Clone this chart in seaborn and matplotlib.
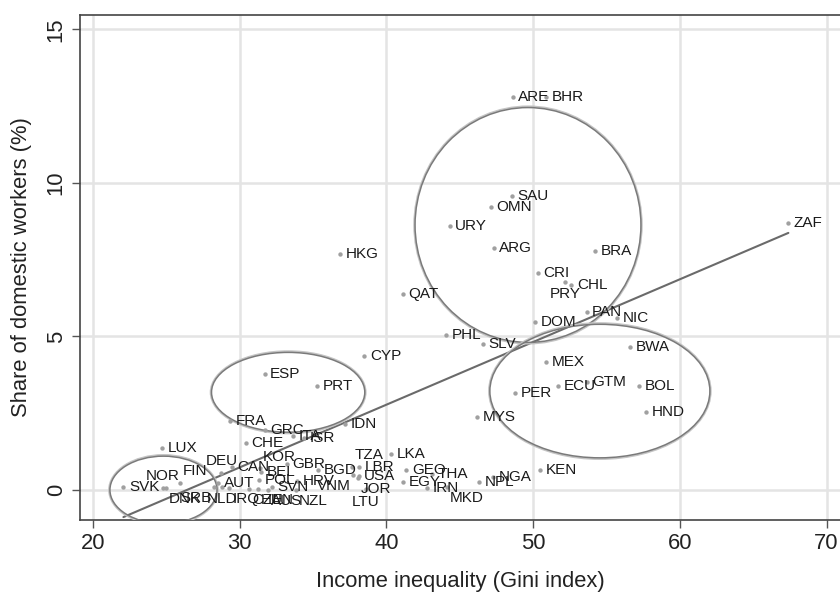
import numpy as np
import pandas as pd
import matplotlib
matplotlib.use('Agg')
import matplotlib.pyplot as plt
import seaborn as sns
from matplotlib.patches import Ellipse

# data
countries = [
    'ARE', 'BHR', 'SAU', 'OMN', 'URY', 'ARG', 'BRA', 'CRI', 'PRY', 'CHL',
    'PAN', 'NIC', 'DOM', 'PHL', 'SLV', 'BWA', 'MEX', 'GTM', 'ECU', 'BOL',
    'PER', 'HND', 'MYS', 'ZAF', 'HKG', 'QAT', 'CYP', 'ESP', 'PRT', 'FRA',
    'IDN', 'GRC', 'ITA', 'ISR', 'CHE', 'LUX', 'KEN', 'NGA', 'NPL', 'MKD',
    'IRN', 'THA', 'GEO', 'EGY', 'LKA', 'LTU', 'JOR', 'USA', 'VNM', 'LBR',
    'TZA', 'BGD', 'HRV', 'GBR', 'KOR', 'BEL', 'POL', 'SVN', 'CZE', 'HUN',
    'AUS', 'NZL', 'CAN', 'IRQ', 'NLD', 'SRB', 'AUT', 'DEU', 'FIN', 'NOR',
    'DNK', 'SVK',
]
gini = [
    48.6, 50.9, 48.56, 47.1, 44.3, 47.3, 54.2, 50.3, 52.2, 52.6,
    53.65, 55.7, 50.15, 44.06, 46.56, 56.6, 50.9, 53.65, 51.7, 57.2,
    48.77, 57.7, 46.2, 67.4, 36.84, 41.1, 38.5, 31.7, 35.3, 29.34,
    37.2, 31.7, 33.65, 34.4, 30.4, 24.7, 50.5, 47.25, 46.3, 44.15,
    42.75, 43.1, 41.35, 41.15, 40.3, 38.6, 38.05, 38.1, 37.75, 38.15,
    37.65, 35.35, 33.9, 33.2, 31.4, 31.45, 31.3, 32.2, 30.63, 31.25,
    31.93, 33.84, 29.45, 29.3, 28.8, 28.25, 28.55, 28.75, 25.95, 24.75,
    25.0, 22.07,
]
share = [
    12.81, 12.81, 9.59, 9.2, 8.59, 7.87, 7.78, 7.08, 6.78, 6.68,
    5.78, 5.59, 5.46, 5.05, 4.76, 4.67, 4.16, 3.53, 3.37, 3.37,
    3.15, 2.55, 2.37, 8.69, 7.68, 6.38, 4.36, 3.76, 3.37, 2.25,
    2.16, 1.95, 1.74, 1.70, 1.52, 1.36, 0.64, 0.43, 0.25, 0.10,
    0.05, 0.52, 0.64, 0.25, 1.16, 0.03, 0.39, 0.46, 0.49, 0.76,
    0.76, 0.65, 0.29, 0.85, 0.72, 0.59, 0.33, 0.10, 0.03, 0.03,
    0.0, 0.0, 0.75, 0.07, 0.10, 0.10, 0.22, 0.54, 0.24, 0.06,
    0.06, 0.10,
]

# label clock positions that differ from the default (3 o'clock)
label_pos = {
    'PRY': 6, 'NOR': 12, 'DNK': 4, 'FIN': 1, 'DEU': 12, 'SRB': 7,
    'NLD': 6, 'IRQ': 4, 'KOR': 1, 'CZE': 4, 'HUN': 4, 'AUS': 4,
    'NZL': 4, 'TZA': 1, 'VNM': 7, 'JOR': 4, 'LTU': 6, 'MKD': 4,
}
offsets = {
    3: ((4, 0), 'left', 'center'),
    12: ((0, 4), 'center', 'bottom'),
    1: ((2, 3), 'left', 'bottom'),
    4: ((2, -3), 'left', 'top'),
    6: ((0, -4), 'center', 'top'),
    7: ((-2, -3), 'right', 'top'),
}

# highlighted groups: (centre x, centre y, width, height)
ellipses = [
    (49.65, 8.63, 15.4, 7.65),
    (54.55, 3.22, 15.0, 4.35),
    (33.3, 3.18, 10.45, 2.6),
    (24.8, 0.0, 7.3, 2.2),
]

df = pd.DataFrame({'country': countries, 'gini': gini, 'share': share})

sns.set_theme(style='white')
plt.rcParams['font.family'] = ['Liberation Sans', 'DejaVu Sans']

fig = plt.figure(figsize=(8.4, 6.03), dpi=100)
ax = fig.add_axes([80 / 840, 1 - 520 / 603, 760 / 840, 505 / 603])

ax.grid(True, color='#e4e4e4', linewidth=1.8, zorder=0)
ax.set_axisbelow(True)

sns.regplot(data=df, x='gini', y='share', ci=None, scatter=False, ax=ax,
            line_kws={'color': '#6a6a6a', 'linewidth': 1.5, 'zorder': 3})
sns.scatterplot(data=df, x='gini', y='share', ax=ax, color='#a0a0a0',
                s=10, linewidth=0, zorder=4)

for _, row in df.iterrows():
    (dx, dy), ha, va = offsets[label_pos.get(row['country'], 3)]
    ax.annotate(row['country'], (row['gini'], row['share']),
                xytext=(dx, dy), textcoords='offset points', ha=ha, va=va,
                fontsize=11, color='#1a1a1a', zorder=5)

for cx, cy, w, h in ellipses:
    ax.add_patch(Ellipse((cx, cy), w + 0.12, h + 0.08, fill=False,
                         edgecolor='#c4c4c4', linewidth=1.3, zorder=3))
    ax.add_patch(Ellipse((cx, cy), w, h, fill=False,
                         edgecolor='#7a7a7a', linewidth=1.1, zorder=3))

ax.set_xlim(19.11, 70.92)
ax.set_ylim(-0.98, 15.47)
ax.set_xticks([20, 30, 40, 50, 60, 70])
ax.set_yticks([0, 5, 10, 15])
ax.set_xlabel('Income inequality (Gini index)', fontsize=15.8,
              color='#222222', labelpad=12)
ax.set_ylabel('Share of domestic workers (%)', fontsize=15.8,
              color='#222222', labelpad=10)
ax.tick_params(axis='both', which='major', direction='out', length=6,
               width=1, color='#555555', labelsize=15.8, labelcolor='#222222',
               bottom=True, left=True)
plt.setp(ax.get_yticklabels(), rotation=90, va='center')

for side in ['left', 'bottom', 'top']:
    ax.spines[side].set_color('#444444')
    ax.spines[side].set_linewidth(1.2)
ax.spines['right'].set_visible(False)

fig.savefig('out.png', dpi=100)
plt.close(fig)
